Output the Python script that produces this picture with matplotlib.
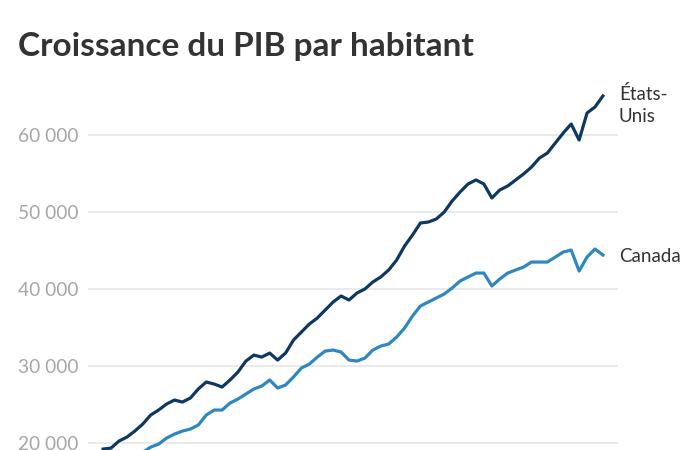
"""Croissance du PIB par habitant : États-Unis vs Canada (1960-2023)."""

import matplotlib

matplotlib.use("Agg")
import matplotlib.pyplot as plt  # noqa: E402
from matplotlib.ticker import FuncFormatter  # noqa: E402

# ---- data -------------------------------------------------------------------
years = list(range(1960, 2024))

usa = [
    19210, 19340, 20250, 20770, 21550, 22460, 23630, 24280, 25060, 25580,
    25320, 25840, 27010, 27920, 27660, 27270, 28180, 29220, 30640, 31420,
    31160, 31680, 30770, 31680, 33370, 34410, 35450, 36230, 37270, 38310,
    39090, 38570, 39480, 40000, 40910, 41560, 42470, 43760, 45580, 47010,
    48570, 48700, 49090, 50000, 51430, 52600, 53640, 54160, 53640, 51820,
    52860, 53380, 54160, 54940, 55840, 57010, 57660, 58960, 60260, 61430,
    59350, 62860, 63640, 65070,
]

canada = [
    16000, 16200, 17000, 17500, 18200, 18800, 19470, 19860, 20640, 21160,
    21550, 21810, 22330, 23630, 24280, 24280, 25190, 25710, 26360, 27010,
    27400, 28180, 27140, 27530, 28570, 29740, 30250, 31160, 31940, 32070,
    31810, 30770, 30640, 31030, 32070, 32590, 32850, 33760, 34930, 36490,
    37790, 38310, 38830, 39350, 40130, 41040, 41560, 42070, 42070, 40390,
    41300, 42070, 42470, 42850, 43500, 43500, 43500, 44150, 44800, 45060,
    42330, 44150, 45190, 44410,
]

yticks = [20000, 30000, 40000, 50000, 60000]

title = "Croissance du PIB par habitant"
label_usa = "États-\nUnis"
label_canada = "Canada"

USA_COLOR = "#0f3860"
CANADA_COLOR = "#2f87bf"
FONT = ["Lato", "DejaVu Sans"]


def main() -> None:
    fig = plt.figure(figsize=(7, 4.5), dpi=100)
    ax = fig.add_axes([88 / 700, 0, 530 / 700, 370 / 450])

    ax.plot(years, usa, color=USA_COLOR, lw=2.3, solid_joinstyle="round")
    ax.plot(years, canada, color=CANADA_COLOR, lw=2.3, solid_joinstyle="round")

    ax.set_xlim(1958.1, 2024.9)
    ax.set_ylim(19091, 67143)

    ax.set_yticks(yticks)
    ax.yaxis.set_major_formatter(
        FuncFormatter(lambda v, _: f"{int(v):,}".replace(",", " "))
    )
    ax.grid(axis="y", color="#e4e4e4", lw=1.1)
    ax.set_axisbelow(True)
    ax.tick_params(axis="y", length=0, pad=7, labelsize=13.8, labelcolor="#a6a6a6")
    for lbl in ax.get_yticklabels():
        lbl.set_family(FONT)
    ax.set_xticks([])
    for side in ax.spines.values():
        side.set_visible(False)

    # direct labels at the line ends
    ax.annotate(label_usa, (years[-1], usa[-1]), xytext=(11.5, 8),
                textcoords="offset points", va="top", ha="left",
                fontsize=13.5, color="#333333", family=FONT,
                linespacing=1.35, annotation_clip=False)
    ax.annotate(label_canada, (years[-1], canada[-1]), xytext=(11.5, -1),
                textcoords="offset points", va="center", ha="left",
                fontsize=13.5, color="#333333", family=FONT,
                annotation_clip=False)

    fig.text(18 / 700, 1 - 56 / 450, title, ha="left", va="baseline",
             fontsize=24, fontweight="bold", color="#333333", family=FONT)

    fig.savefig("out.png", dpi=100)
    plt.close(fig)


if __name__ == "__main__":
    main()
